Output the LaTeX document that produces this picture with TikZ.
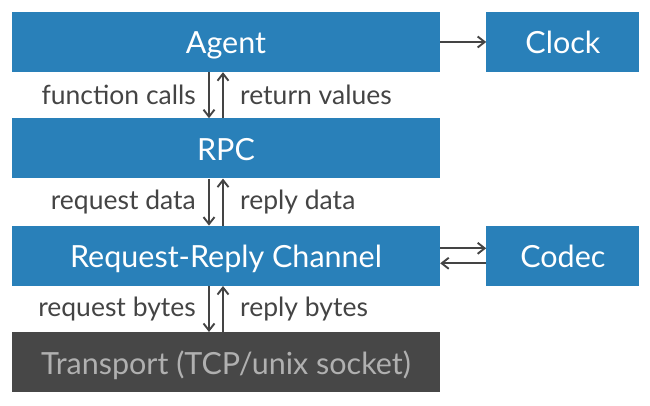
\documentclass[tikz,border=0pt]{standalone}
\usepackage{fontspec}
\setmainfont{Lato}
\usepackage{tikz}
\usetikzlibrary{arrows.meta,positioning,calc}
\definecolor{lyrblue}{HTML}{2980B9}
\definecolor{lyrdark}{HTML}{474747}
\definecolor{lyrtext}{HTML}{B0B0B0}
\definecolor{lyrarrow}{HTML}{444444}

\begin{document}
\begin{tikzpicture}[
    x=1pt, y=1pt,
    node distance=46pt,
    layer/.style={fill=lyrblue, text=white, minimum width=428pt, minimum height=60pt, inner sep=0pt, text height=24pt, text depth=0pt, font=\fontsize{30.5}{34}\selectfont},
    side/.style={layer, minimum width=153pt},
    lbl/.style={font=\fontsize{26.5}{30}\selectfont, text=lyrarrow, inner sep=0pt},
    arrow/.style={-{Straight Barb[length=7pt, width=11pt]}, line width=1.9pt, lyrarrow}
]
    \useasboundingbox (0,0) rectangle (650,406);
    \node[layer] (agent) at (226,364) {Agent};
    \node[side, right=46pt of agent] (clock) {Clock};
    \node[layer, below=46pt of agent] (rpc) {RPC};
    \node[layer, below=47pt of rpc] (channel) {Request-Reply Channel};
    \node[side, right=46pt of channel] (codec) {Codec};
    \node[layer, fill=lyrdark, text=lyrtext, below=46pt of channel] (transport) {Transport (TCP/unix socket)};

    \draw[arrow] (agent) -- (clock);
    \draw[arrow] ([yshift=7.5pt]channel.east) -- ([yshift=7.5pt]codec.west);
    \draw[arrow] ([yshift=-7.5pt]codec.west) -- ([yshift=-7.5pt]channel.east);

    % agent <-> rpc
    \draw[arrow] ([xshift=-17pt]agent.south) -- ([xshift=-17pt]rpc.north);
    \draw[arrow] ([xshift=-3pt]rpc.north) -- ([xshift=-3pt]agent.south);
    \node[lbl, anchor=east] (calls) at ($([xshift=-30pt]agent.south)!0.5!([xshift=-30pt]rpc.north)$) {function calls};
    \node[lbl, anchor=west] (values) at ($([xshift=14pt]agent.south)!0.5!([xshift=14pt]rpc.north)$) {return values};

    % rpc <-> channel
    \draw[arrow] ([xshift=-17pt]rpc.south) -- ([xshift=-17pt]channel.north);
    \draw[arrow] ([xshift=-3pt]channel.north) -- ([xshift=-3pt]rpc.south);
    \node[lbl, anchor=east] (reqdata) at ($([xshift=-30pt]rpc.south)!0.5!([xshift=-30pt]channel.north)$) {request data};
    \node[lbl, anchor=west] (repdata) at ($([xshift=14pt]rpc.south)!0.5!([xshift=14pt]channel.north)$) {reply data};

    % channel <-> transport
    \draw[arrow] ([xshift=-17pt]channel.south) -- ([xshift=-17pt]transport.north);
    \draw[arrow] ([xshift=-3pt]transport.north) -- ([xshift=-3pt]channel.south);
    \node[lbl, anchor=east] (reqbytes) at ($([xshift=-30pt]channel.south)!0.5!([xshift=-30pt]transport.north)$) {request bytes};
    \node[lbl, anchor=west] (repbytes) at ($([xshift=14pt]channel.south)!0.5!([xshift=14pt]transport.north)$) {reply bytes};
\end{tikzpicture}
\end{document}
